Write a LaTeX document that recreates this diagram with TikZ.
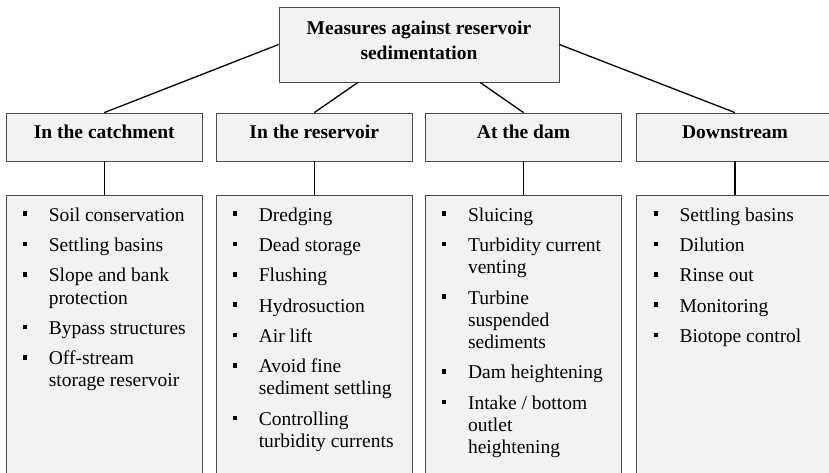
\documentclass[tikz,border=0pt]{standalone}
\usepackage{fontspec}
\setmainfont{Liberation Serif}
\usetikzlibrary{positioning}
\tikzstyle{link}=[line width=1.3pt,draw=black]
\newcommand{\blt}{\rule[5pt]{4pt}{4.6pt}}

\begin{document}
\begin{tikzpicture}[
        x=1pt,y=1pt,
        box/.style={rectangle,draw=black!70,line width=0.8pt,fill=gray!10,inner sep=0pt},
        head/.style={box,minimum width=196.5pt,minimum height=48pt,text height=10pt,text depth=7.4pt,font=\fontsize{19.5}{22.3}\selectfont\bfseries},
        listbox/.style={box,minimum width=196.5pt,minimum height=300pt},
        items/.style={anchor=base west,inner sep=0pt,font=\fontsize{19.5}{22.3}\selectfont}
        ]
        \useasboundingbox (0,0) rectangle (829,472);
        \clip (0,0) rectangle (829,472);
        \node[box,minimum width=280pt,minimum height=75pt,align=center,text height=34pt,text depth=4.4pt,font=\fontsize{19.5}{25}\selectfont\bfseries] (top) at (419,427.5) {Measures against reservoir\\sedimentation};
        \node[head] (catch) at (104.25,335) {In the catchment};
        \node[head] (resv) at (314.25,335) {In the reservoir};
        \node[head] (dam) at (523.5,335) {At the dam};
        \node[head] (down) at (735,335) {Downstream};
        \node[listbox,below=33.7pt of catch] (catchlist) {};
        \node[listbox,below=33.7pt of resv] (resvlist) {};
        \node[listbox,below=33.7pt of dam] (damlist) {};
        \node[listbox,below=33.7pt of down] (downlist) {};
        \node[items] (catchitems) at ([xshift=17pt,yshift=-26pt]catchlist.north west) {\begin{tabular}[t]{@{}l@{\hspace{22pt}}l@{}}
            \blt & Soil conservation\\[8pt]
            \blt & Settling basins\\[8pt]
            \blt & Slope and bank\\
                 & protection\\[8pt]
            \blt & Bypass structures\\[8pt]
            \blt & Off-stream\\
                 & storage reservoir
            \end{tabular}};
        \node[items] (resvitems) at ([xshift=17pt,yshift=-26pt]resvlist.north west) {\begin{tabular}[t]{@{}l@{\hspace{22pt}}l@{}}
            \blt & Dredging\\[8pt]
            \blt & Dead storage\\[8pt]
            \blt & Flushing\\[8pt]
            \blt & Hydrosuction\\[8pt]
            \blt & Air lift\\[8pt]
            \blt & Avoid fine\\
                 & sediment settling\\[8pt]
            \blt & Controlling\\
                 & turbidity currents
            \end{tabular}};
        \node[items] (damitems) at ([xshift=17pt,yshift=-26pt]damlist.north west) {\begin{tabular}[t]{@{}l@{\hspace{22pt}}l@{}}
            \blt & Sluicing\\[8pt]
            \blt & Turbidity current\\
                 & venting\\[8pt]
            \blt & Turbine\\
                 & suspended\\
                 & sediments\\[8pt]
            \blt & Dam heightening\\[8pt]
            \blt & Intake / bottom\\
                 & outlet\\
                 & heightening
            \end{tabular}};
        \node[items] (downitems) at ([xshift=17pt,yshift=-26pt]downlist.north west) {\begin{tabular}[t]{@{}l@{\hspace{22pt}}l@{}}
            \blt & Settling basins\\[8pt]
            \blt & Dilution\\[8pt]
            \blt & Rinse out\\[8pt]
            \blt & Monitoring\\[8pt]
            \blt & Biotope control
            \end{tabular}};
        \draw[link] (top.west) -- (catch.north);
        \draw[link] ([xshift=-61pt]top.south) -- (resv.north);
        \draw[link] ([xshift=61pt]top.south) -- (dam.north);
        \draw[link] (top.east) -- (down.north);
        \draw[link] (catch.south) -- (catchlist.north);
        \draw[link] (resv.south) -- (resvlist.north);
        \draw[link] (dam.south) -- (damlist.north);
        \draw[link] (down.south) -- (downlist.north);
    \end{tikzpicture}
\end{document}
